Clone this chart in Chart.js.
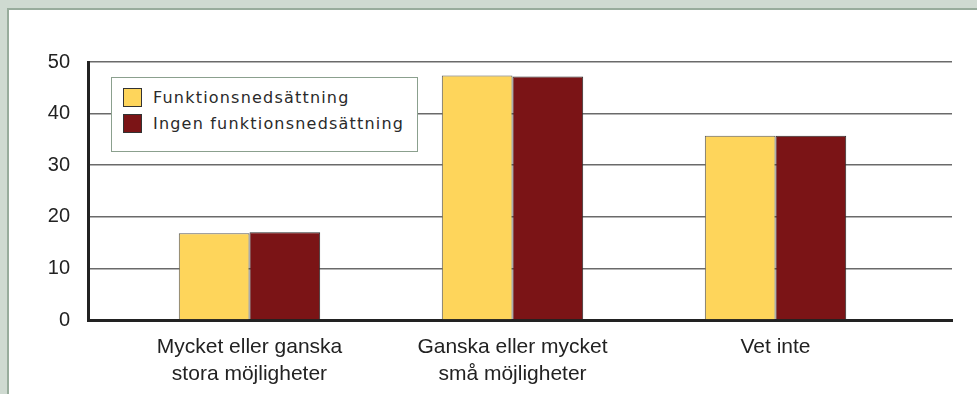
<!DOCTYPE html>
<html lang="sv">
<head>
<meta charset="utf-8">
<title>Möjligheter</title>
<script src="https://cdn.jsdelivr.net/npm/chart.js@4/dist/chart.umd.min.js"></script>
<style>
    html, body {
        margin: 0;
        padding: 0;
        width: 977px;
        height: 394px;
        overflow: hidden;
        background: #cfdad1;
    }
    .panel {
        position: absolute;
        left: 7px;
        top: 8px;
        right: 0;
        bottom: 0;
        background: #fff;
        border-top: 2px solid #98ac9c;
        border-left: 2px solid #98ac9c;
    }
    #chart {
        position: absolute;
        left: 0;
        top: 0;
    }
    .legend {
        position: absolute;
        left: 111px;
        top: 77px;
        width: 305px;
        height: 73px;
        background: #fff;
        border: 1px solid #8ba08e;
        font-family: "DejaVu Sans", sans-serif;
        font-size: 16px;
        letter-spacing: 1.2px;
        color: #2a2a2a;
    }
    .legend-item {
        position: absolute;
        left: 11px;
        height: 19px;
        line-height: 19px;
        white-space: nowrap;
    }
    .legend-item span.box {
        display: inline-block;
        width: 17px;
        height: 17px;
        border: 1px solid #333;
        vertical-align: top;
        margin-right: 11px;
    }
</style>
</head>
<body>
<div class="panel"></div>
<canvas id="chart" width="977" height="394"></canvas>
<div class="legend" id="legend"></div>

<script>
const categories = [
    ['Mycket eller ganska', 'stora möjligheter'],
    ['Ganska eller mycket', 'små möjligheter'],
    ['Vet inte']
];
const seriesNames = ['Funktionsnedsättning', 'Ingen funktionsnedsättning'];
const withDisability = [16.8, 47.4, 35.7];
const withoutDisability = [17.0, 47.2, 35.7];
const yTicks = [0, 10, 20, 30, 40, 50];

const colors = ['#fed55b', '#7b1416'];
const borders = ['#5a5a5a', '#2a2a2a'];

function toPoints(values) {
    return values.map((v, i) => ({ x: i, y: v }));
}

const datasets = [withDisability, withoutDisability].map((values, i) => ({
    label: seriesNames[i],
    data: toPoints(values),
    backgroundColor: colors[i],
    borderColor: borders[i],
    borderWidth: 1,
    categoryPercentage: 0.5376,
    barPercentage: 1
}));

const fontFamily = "'Liberation Sans', Arial, sans-serif";

new Chart(document.getElementById('chart'), {
    type: 'bar',
    data: { datasets },
    options: {
        responsive: false,
        animation: false,
        layout: { padding: { top: 62, right: 25, bottom: 0, left: 0 } },
        plugins: {
            legend: { display: false },
            tooltip: { enabled: false }
        },
        scales: {
            x: {
                type: 'linear',
                offset: false,
                min: -0.614,
                max: 2.671,
                grid: { display: false },
                border: { display: true, width: 3, color: '#222' },
                afterBuildTicks: scale => {
                    scale.ticks = categories.map((c, i) => ({ value: i }));
                },
                afterFit: scale => { scale.height = 74; },
                ticks: {
                    autoSkip: false,
                    maxRotation: 0,
                    padding: 6,
                    color: '#222',
                    font: { family: fontFamily, size: 21, lineHeight: 1.28 },
                    callback: value => categories[value]
                }
            },
            y: {
                min: 0,
                max: 50,
                afterBuildTicks: scale => {
                    scale.ticks = yTicks.map(v => ({ value: v }));
                },
                afterFit: scale => { scale.width = 88; },
                grid: { color: '#6a6a6a', lineWidth: 1.5, drawTicks: false },
                border: { display: true, width: 3, color: '#222' },
                ticks: {
                    padding: 18,
                    color: '#222',
                    font: { family: fontFamily, size: 20 }
                }
            }
        }
    }
});

// legend box sitting inside the plot area
const legendEl = document.getElementById('legend');
seriesNames.forEach((name, i) => {
    const item = document.createElement('div');
    item.className = 'legend-item';
    item.style.top = (10 + i * 26) + 'px';
    const box = document.createElement('span');
    box.className = 'box';
    box.style.background = colors[i];
    item.appendChild(box);
    item.appendChild(document.createTextNode(name));
    legendEl.appendChild(item);
});
</script>
</body>
</html>
